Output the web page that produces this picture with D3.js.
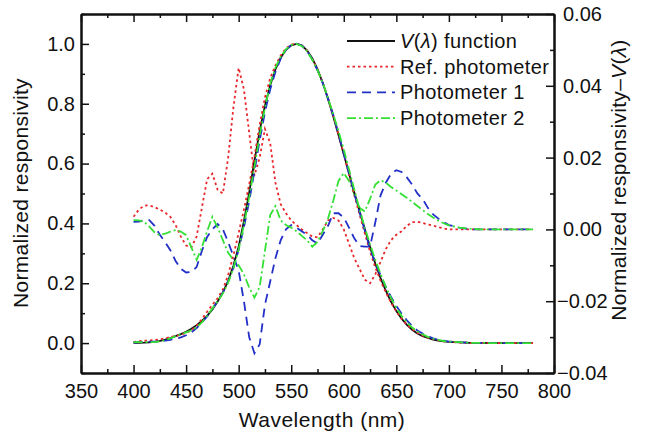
<!DOCTYPE html>
<html>
<head>
<meta charset="utf-8">
<script src="https://cdn.jsdelivr.net/npm/d3@7"></script>
<style>
  body { margin: 0; background: #fff; }
  svg text { font-family: "Liberation Sans", Arial, sans-serif; fill: #111; }
  .axis path, .axis line { stroke: #111; }
</style>
</head>
<body>
<div id="chart-area"></div>
<script>
// wavelength grid (nm)
const wavelengths = [400, 405, 410, 415, 420, 425, 430, 435, 440, 445, 450, 455, 460, 465, 470, 475, 480, 485, 490, 495,
  500, 505, 510, 515, 520, 525, 530, 535, 540, 545, 550, 555, 560, 565, 570, 575, 580, 585, 590, 595,
  600, 605, 610, 615, 620, 625, 630, 635, 640, 645, 650, 655, 660, 665, 670, 675, 680, 685, 690, 695,
  700, 710, 720, 730, 740, 750, 760, 770, 780];

// normalized responsivity (left axis)
const vLambda = [0.0004, 0.0006, 0.0012, 0.0022, 0.0040, 0.0073, 0.0116, 0.0168, 0.0230, 0.0298, 0.0380, 0.0480, 0.0600, 0.0739, 0.0910, 0.1126, 0.1390, 0.1693, 0.2080, 0.2586,
  0.3230, 0.4073, 0.5030, 0.6082, 0.7100, 0.7932, 0.8620, 0.9149, 0.9540, 0.9803, 0.9950, 1.0000, 0.9950, 0.9786, 0.9520, 0.9154, 0.8700, 0.8163, 0.7570, 0.6949,
  0.6310, 0.5668, 0.5030, 0.4412, 0.3810, 0.3210, 0.2650, 0.2170, 0.1750, 0.1382, 0.1070, 0.0816, 0.0610, 0.0446, 0.0320, 0.0232, 0.0170, 0.0119, 0.0082, 0.0057,
  0.0041, 0.0021, 0.0010, 0.0005, 0.0002, 0.0001, 0.0001, 0.0000, 0.0000];
const refResp = [0.004, 0.006, 0.008, 0.009, 0.010, 0.013, 0.016, 0.020, 0.024, 0.028, 0.034, 0.043, 0.058, 0.080, 0.105, 0.128, 0.150, 0.179, 0.228, 0.293,
  0.368, 0.446, 0.530, 0.623, 0.730, 0.821, 0.886, 0.928, 0.961, 0.985, 0.998, 1.001, 0.995, 0.978, 0.950, 0.913, 0.870, 0.819, 0.760, 0.697,
  0.631, 0.563, 0.495, 0.430, 0.367, 0.306, 0.253, 0.208, 0.170, 0.135, 0.106, 0.081, 0.062, 0.047, 0.034, 0.025, 0.018, 0.013, 0.009, 0.006,
  0.004, 0.002, 0.001, 0.001, 0.000, 0.000, 0.000, 0.000, 0.000];
const p1Resp = [0.002, 0.003, 0.004, 0.005, 0.005, 0.006, 0.008, 0.011, 0.014, 0.019, 0.026, 0.036, 0.050, 0.068, 0.089, 0.113, 0.141, 0.169, 0.205, 0.251,
  0.312, 0.387, 0.473, 0.574, 0.678, 0.772, 0.848, 0.907, 0.951, 0.980, 0.996, 1.001, 0.995, 0.977, 0.949, 0.912, 0.869, 0.817, 0.762, 0.699,
  0.634, 0.567, 0.501, 0.437, 0.376, 0.316, 0.267, 0.227, 0.188, 0.154, 0.124, 0.098, 0.076, 0.057, 0.042, 0.032, 0.023, 0.016, 0.011, 0.008,
  0.005, 0.003, 0.001, 0.001, 0.000, 0.000, 0.000, 0.000, 0.000];
const p2Resp = [0.003, 0.003, 0.003, 0.003, 0.003, 0.006, 0.010, 0.016, 0.023, 0.029, 0.036, 0.043, 0.052, 0.069, 0.091, 0.116, 0.140, 0.166, 0.202, 0.250,
  0.313, 0.395, 0.487, 0.589, 0.694, 0.787, 0.866, 0.921, 0.957, 0.982, 0.996, 1.000, 0.993, 0.976, 0.947, 0.912, 0.870, 0.819, 0.765, 0.708,
  0.647, 0.580, 0.513, 0.447, 0.386, 0.330, 0.278, 0.231, 0.188, 0.150, 0.118, 0.091, 0.070, 0.052, 0.039, 0.029, 0.021, 0.015, 0.011, 0.007,
  0.005, 0.003, 0.001, 0.001, 0.000, 0.000, 0.000, 0.000, 0.000];

// normalized responsivity - V(lambda) (right axis)
const refDiff = [0.0035, 0.0055, 0.0066, 0.0067, 0.0062, 0.0055, 0.0047, 0.0035, 0.0012, -0.0020, -0.0045, -0.0050, -0.0020, 0.0060, 0.0140, 0.0155, 0.0110, 0.0100, 0.0200, 0.0340,
  0.0450, 0.0390, 0.0270, 0.0150, 0.0200, 0.0280, 0.0240, 0.0130, 0.0070, 0.0045, 0.0025, 0.0012, 0.0000, -0.0010, -0.0020, -0.0022, 0.0000, 0.0025, 0.0032, 0.0025,
  0.0000, -0.0040, -0.0080, -0.0110, -0.0140, -0.0150, -0.0125, -0.0090, -0.0055, -0.0030, -0.0015, -0.0005, 0.0010, 0.0020, 0.0021, 0.0018, 0.0014, 0.0011, 0.0006, 0.0003,
  0.0000, 0.0000, 0.0000, 0.0000, 0.0000, 0.0000, 0.0000, 0.0000, 0.0000];
const p1Diff = [0.0021, 0.0022, 0.0025, 0.0026, 0.0010, -0.0015, -0.0035, -0.0058, -0.0088, -0.0110, -0.0120, -0.0118, -0.0105, -0.0060, -0.0021, 0.0000, 0.0015, 0.0000, -0.0035, -0.0075,
  -0.0115, -0.0200, -0.0300, -0.0345, -0.0320, -0.0210, -0.0145, -0.0080, -0.0030, 0.0000, 0.0012, 0.0005, -0.0005, -0.0015, -0.0030, -0.0039, -0.0015, 0.0010, 0.0045, 0.0045,
  0.0033, 0.0005, -0.0025, -0.0046, -0.0048, -0.0048, 0.0020, 0.0095, 0.0130, 0.0155, 0.0165, 0.0160, 0.0145, 0.0125, 0.0100, 0.0085, 0.0060, 0.0042, 0.0030, 0.0020,
  0.0012, 0.0005, 0.0000, 0.0000, 0.0000, 0.0000, 0.0000, 0.0000, 0.0000];
const p2Diff = [0.0026, 0.0025, 0.0021, 0.0008, -0.0008, -0.0016, -0.0012, -0.0006, -0.0002, -0.0006, -0.0016, -0.0050, -0.0085, -0.0050, -0.0005, 0.0035, 0.0005, -0.0030, -0.0065, -0.0085,
  -0.0100, -0.0125, -0.0162, -0.0190, -0.0160, -0.0060, 0.0040, 0.0065, 0.0025, 0.0012, 0.0005, -0.0005, -0.0018, -0.0030, -0.0048, -0.0035, -0.0005, 0.0030, 0.0080, 0.0135,
  0.0157, 0.0135, 0.0098, 0.0060, 0.0050, 0.0085, 0.0125, 0.0137, 0.0130, 0.0118, 0.0108, 0.0098, 0.0088, 0.0077, 0.0065, 0.0054, 0.0043, 0.0033, 0.0024, 0.0017,
  0.0011, 0.0005, 0.0002, 0.0000, 0.0000, 0.0000, 0.0000, 0.0000, 0.0000];

const xTicks = [350, 400, 450, 500, 550, 600, 650, 700, 750, 800];
const leftTicks = [0, 0.2, 0.4, 0.6, 0.8, 1.0];
const rightTicks = [-0.04, -0.02, 0, 0.02, 0.04, 0.06];

const chartSize = { width: 646, height: 432 };
const margin = { left: 81, right: 92, top: 14, bottom: 59 };
const width = chartSize.width - margin.left - margin.right;
const height = chartSize.height - margin.top - margin.bottom;

const colors = { v: "#111111", ref: "#e8262a", p1: "#2230c8", p2: "#33e033" };
const dashes = { v: null, ref: "2.5,3", p1: "9,6", p2: "9,3,2,3" };

const svg = d3.select("#chart-area").append("svg")
  .attr("width", chartSize.width)
  .attr("height", chartSize.height);
const g = svg.append("g").attr("transform", `translate(${margin.left},${margin.top})`);

const x = d3.scaleLinear().domain([350, 800]).range([0, width]);
const yL = d3.scaleLinear().domain([-0.1, 1.1]).range([height, 0]);
const yR = d3.scaleLinear().domain([-0.04, 0.06]).range([height, 0]);

// minor ticks
const minorX = d3.range(375, 800, 50);
const minorL = [-0.1, 0.1, 0.3, 0.5, 0.7, 0.9, 1.1];
const minorR = [-0.03, -0.01, 0.01, 0.03, 0.05];

const addAxis = (axis, cls, transform) => {
  const a = g.append("g").attr("class", "axis " + cls).call(axis);
  if (transform) a.attr("transform", transform);
  a.selectAll("line").attr("stroke-width", 1.5);
  a.select(".domain").attr("stroke-width", 2);
  return a;
};

addAxis(d3.axisBottom(x).tickValues(minorX).tickSize(-4).tickSizeOuter(0).tickFormat(""), "xm", `translate(0,${height})`);
addAxis(d3.axisTop(x).tickValues(minorX).tickSize(-4).tickSizeOuter(0).tickFormat(""), "xtm");
addAxis(d3.axisLeft(yL).tickValues(minorL).tickSize(-4).tickSizeOuter(0).tickFormat(""), "ylm");
addAxis(d3.axisRight(yR).tickValues(minorR).tickSize(-4).tickSizeOuter(0).tickFormat(""), "yrm", `translate(${width},0)`);

addAxis(d3.axisBottom(x).tickValues(xTicks).tickSize(-8).tickSizeOuter(0).tickPadding(11), "x", `translate(0,${height})`);
addAxis(d3.axisTop(x).tickValues(xTicks).tickSize(-8).tickSizeOuter(0).tickFormat(""), "xt");
addAxis(d3.axisLeft(yL).tickValues(leftTicks).tickSize(-8).tickSizeOuter(0).tickPadding(6).tickFormat(d3.format(".1f")), "yl");
const yr = addAxis(d3.axisRight(yR).tickValues(rightTicks).tickSize(-8).tickSizeOuter(0).tickPadding(9).tickFormat(d3.format(".2f")), "yr", `translate(${width},0)`);
yr.selectAll("text").attr("dx", d => d < 0 ? -6 : 0);

g.selectAll(".axis text").attr("font-size", 20).style("font-family", '"Liberation Sans", Arial, sans-serif');

// curves
const series = [
  { key: "v", resp: vLambda, diff: null },
  { key: "ref", resp: refResp, diff: refDiff },
  { key: "p1", resp: p1Resp, diff: p1Diff },
  { key: "p2", resp: p2Resp, diff: p2Diff }
];
const lineL = d3.line().x(d => x(d[0])).y(d => yL(d[1]));
const lineR = d3.line().x(d => x(d[0])).y(d => yR(d[1]));

series.forEach(s => {
  if (!s.diff) return;
  g.append("path")
    .datum(wavelengths.map((w, i) => [w, s.diff[i]]))
    .attr("d", lineR)
    .attr("fill", "none")
    .attr("stroke", colors[s.key])
    .attr("stroke-width", 1.8)
    .attr("stroke-dasharray", dashes[s.key]);
});
series.forEach(s => {
  g.append("path")
    .datum(wavelengths.map((w, i) => [w, s.resp[i]]))
    .attr("d", lineL)
    .attr("fill", "none")
    .attr("stroke", colors[s.key])
    .attr("stroke-width", 1.8)
    .attr("stroke-dasharray", dashes[s.key]);
});

// legend
const legend = svg.append("g").attr("transform", "translate(347,41)");
const labels = [
  ["v", null],
  ["ref", "Ref. photometer"],
  ["p1", "Photometer 1"],
  ["p2", "Photometer 2"]
];
labels.forEach(([key, label], i) => {
  const row = legend.append("g").attr("transform", `translate(0,${i * 25.7})`);
  row.append("line")
    .attr("x1", 0).attr("x2", 48).attr("y1", 0).attr("y2", 0)
    .attr("stroke", colors[key])
    .attr("stroke-width", 1.8)
    .attr("stroke-dasharray", dashes[key]);
  const t = row.append("text").attr("x", 53).attr("y", 7)
    .attr("font-size", 20).style("letter-spacing", "0.4px");
  if (label) t.text(label);
  else {
    t.append("tspan").attr("font-style", "italic").text("V");
    t.append("tspan").text("(");
    t.append("tspan").attr("font-style", "italic").text("λ");
    t.append("tspan").text(") function");
  }
});

// axis titles
svg.append("text")
  .attr("x", 322).attr("y", 427)
  .attr("text-anchor", "middle")
  .attr("font-size", 21)
  .style("letter-spacing", "0.5px")
  .text("Wavelength (nm)");

svg.append("text")
  .attr("transform", "translate(28,193) rotate(-90)")
  .attr("text-anchor", "middle")
  .attr("font-size", 21)
  .style("letter-spacing", "0.3px")
  .text("Normalized responsivity");

const rt = svg.append("text")
  .attr("transform", "translate(626,180) rotate(-90)")
  .attr("text-anchor", "middle")
  .attr("font-size", 21)
  .style("letter-spacing", "0.3px");
rt.append("tspan").text("Normalized responsivity–");
rt.append("tspan").attr("font-style", "italic").text("V");
rt.append("tspan").text("(");
rt.append("tspan").attr("font-style", "italic").text("λ");
rt.append("tspan").text(")");
</script>
</body>
</html>
